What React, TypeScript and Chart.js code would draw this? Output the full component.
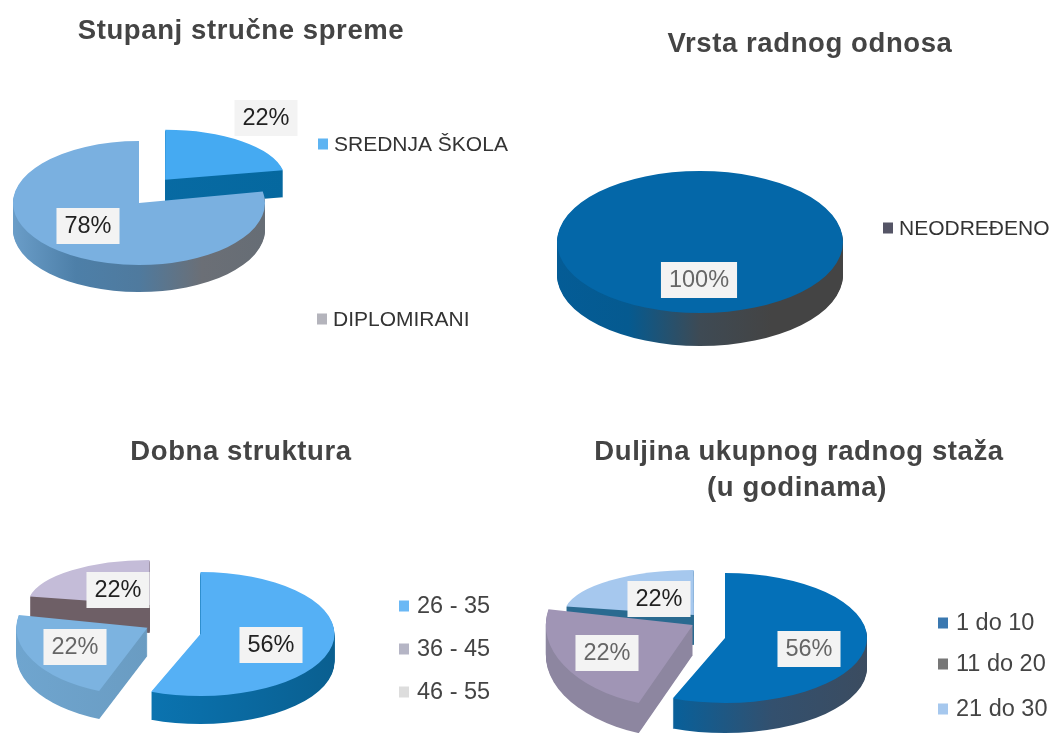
import React, { useEffect, useRef } from "react";
import { Chart, registerables } from "chart.js";

Chart.register(...registerables);

const PAGE_W = 1060;
const PAGE_H = 733;
const FONT = '"Liberation Sans", Arial, sans-serif';

// ---- data ----
const educationLabels = ["SREDNJA ŠKOLA", "DIPLOMIRANI"];
const educationValues = [22, 78];
const contractLabels = ["NEODREĐENO"];
const contractValues = [100];
const ageLabels = ["26 - 35", "36 - 45", "46 - 55"];
const ageValues = [56, 22, 22];
const tenureLabels = ["1 do 10", "11 do 20", "21 do 30"];
const tenureValues = [56, 22, 22];

type Slice = {
  top: string; wall: string[]; rx: number; ry: number; nudge: [number, number];
  offset: number; labelAt: [number, number]; labelColor: string;
};
type Cfg = {
  labels: string[]; values: number[]; center: [number, number]; depth: number; order: number[];
  slices: Slice[];
  titles: { text: string; x: number; y: number }[];
  legend: { x: number; y: number; color: string; size: number; textColor: string }[];
};

const configs: Cfg[] = [
  {
    labels: educationLabels, values: educationValues, center: [139, 203], depth: 27, order: [0, 1],
    slices: [
      { top: "#45aaf2", wall: ["#0a6ca6", "#05689f"], rx: 120, ry: 50, nudge: [0, -7.5], offset: 164, labelAt: [266, 118], labelColor: "#222" },
      { top: "#7ab0e0", wall: ["#6a9dc8", "#4d7fa8", "#4f7a9e", "#6b6f76", "#666d75"], rx: 126, ry: 62, nudge: [0, 0], offset: 0, labelAt: [88, 226], labelColor: "#222" },
    ],
    titles: [{ text: "Stupanj stručne spreme", x: 241, y: 31 }],
    legend: [
      { x: 318, y: 145, color: "#5eb4f2", size: 21, textColor: "#333" },
      { x: 317, y: 320, color: "#b4b4bc", size: 21, textColor: "#333" },
    ],
  },
  {
    labels: contractLabels, values: contractValues, center: [700, 242], depth: 33, order: [0],
    slices: [
      { top: "#0467a8", wall: ["#045c96", "#055a90", "#3e4a54", "#444444", "#444444"], rx: 143, ry: 71, nudge: [0, 0], offset: 0, labelAt: [699, 280], labelColor: "#666" },
    ],
    titles: [{ text: "Vrsta radnog odnosa", x: 810, y: 44 }],
    legend: [{ x: 883, y: 229, color: "#555566", size: 21, textColor: "#333" }],
  },
  {
    labels: ageLabels, values: ageValues, center: [172, 628], depth: 28, order: [2, 1, 0],
    slices: [
      { top: "#55b0f5", wall: ["#0c7cbc", "#0a6ea8", "#0a5f90"], rx: 134, ry: 62, nudge: [28.5, 6], offset: 0, labelAt: [271, 645], labelColor: "#222" },
      { top: "#7cb3e0", wall: ["#6fa5cf", "#6a9cc2", "#6a9cc2"], rx: 131, ry: 68, nudge: [0, -7], offset: 112, labelAt: [75, 647], labelColor: "#666" },
      { top: "#c4bcd8", wall: ["#6e5f66", "#6e5f66"], rx: 122, ry: 45, nudge: [0, -9.5], offset: 140, labelAt: [118, 590], labelColor: "#222" },
    ],
    titles: [{ text: "Dobna struktura", x: 241, y: 452 }],
    legend: [
      { x: 399, y: 607, color: "#6ab8f5", size: 23.5, textColor: "#444" },
      { x: 399, y: 650, color: "#b5b5c5", size: 23.5, textColor: "#444" },
      { x: 399, y: 693, color: "#dddddd", size: 23.5, textColor: "#444" },
    ],
  },
  {
    labels: tenureLabels, values: tenureValues, center: [713, 625], depth: 30, order: [2, 1, 0],
    slices: [
      { top: "#0470b8", wall: ["#0a6aa8", "#0a5f98", "#33506e", "#3b4c60"], rx: 142, ry: 65, nudge: [12, 13], offset: 0, labelAt: [809, 649], labelColor: "#666" },
      { top: "#a095b5", wall: ["#8d86a0", "#8d86a0"], rx: 147, ry: 84, nudge: [0, -5.5], offset: 92, labelAt: [607, 653], labelColor: "#666" },
      { top: "#a6c8ee", wall: ["#2a6a90", "#2a6a90"], rx: 130, ry: 45, nudge: [0, 1.5], offset: 120, labelAt: [659, 599], labelColor: "#222" },
    ],
    titles: [
      { text: "Duljina ukupnog radnog staža", x: 799, y: 452 },
      { text: "(u godinama)", x: 797, y: 488 },
    ],
    legend: [
      { x: 938, y: 624, color: "#3a78b0", size: 23.5, textColor: "#444" },
      { x: 938, y: 665, color: "#777777", size: 23.5, textColor: "#444" },
      { x: 938, y: 710, color: "#a6c8ee", size: 23.5, textColor: "#444" },
    ],
  },
];

const TILT = 0.5;

function sliceGeometry(arc: any, s: Slice) {
  const o = (arc.options.offset || 0) / 4;
  const mid = (arc.startAngle + arc.endAngle) / 2;
  const c = arc.circumference;
  const fix = 1 - Math.sin(Math.min(Math.PI, c || 0));
  return {
    o, mid,
    ax: arc.x + Math.cos(mid) * o + s.nudge[0],
    ay: arc.y + Math.sin(mid) * o * TILT + s.nudge[1],
    fullR: arc.outerRadius + o * fix,
  };
}

function pseudo3d(cfg: Cfg) {
  return {
    id: "pseudo3d",
    beforeDatasetDraw(chart: any) {
      const ctx = chart.ctx;
      const arcs = chart.getDatasetMeta(0).data;
      cfg.order.forEach((i) => {
        const arc = arcs[i];
        const s = cfg.slices[i];
        const g = sliceGeometry(arc, s);
        // extruded wall
        const grad = ctx.createLinearGradient(g.ax - s.rx, 0, g.ax + s.rx, 0);
        s.wall.forEach((col, k) => grad.addColorStop(k / (s.wall.length - 1), col));
        ctx.fillStyle = grad;
        for (let d = cfg.depth; d >= 1; d--) {
          ctx.beginPath();
          ctx.moveTo(g.ax, g.ay + d);
          ctx.ellipse(g.ax, g.ay + d, s.rx, s.ry, 0, arc.startAngle, arc.endAngle);
          ctx.closePath();
          ctx.fill();
        }
        // top face: the library's own arc, squashed
        ctx.save();
        ctx.translate(g.ax, g.ay);
        ctx.scale(s.rx / g.fullR, s.ry / g.fullR);
        ctx.translate(-(arc.x + Math.cos(g.mid) * g.o), -(arc.y + Math.sin(g.mid) * g.o));
        arc.draw(ctx);
        ctx.restore();
      });
      return false;
    },
    afterDatasetsDraw(chart: any) {
      const ctx = chart.ctx;
      ctx.save();
      ctx.textBaseline = "middle";
      // value labels
      ctx.textAlign = "center";
      ctx.font = `23.5px ${FONT}`;
      cfg.values.forEach((v, i) => {
        const s = cfg.slices[i];
        const text = `${v}%`;
        const w = ctx.measureText(text).width + 16;
        ctx.fillStyle = "#f3f3f3";
        ctx.fillRect(s.labelAt[0] - w / 2, s.labelAt[1] - 18, w, 36);
        ctx.fillStyle = s.labelColor;
        ctx.fillText(text, s.labelAt[0], s.labelAt[1] + 1);
      });
      // legend
      ctx.textAlign = "left";
      cfg.labels.forEach((label, i) => {
        const l = cfg.legend[i];
        ctx.fillStyle = l.color;
        ctx.fillRect(l.x, l.y - 6.5, 10, 11);
        ctx.font = `${l.size}px ${FONT}`;
        ctx.fillStyle = l.textColor;
        ctx.fillText(label, l.x + (l.size > 22 ? 18 : 16), l.y);
      });
      // titles
      ctx.textAlign = "center";
      ctx.font = `bold 27.5px ${FONT}`;
      ctx.fillStyle = "#444";
      (ctx as any).letterSpacing = "0.6px";
      cfg.titles.forEach((t) => ctx.fillText(t.text, t.x, t.y));
      (ctx as any).letterSpacing = "0px";
      ctx.restore();
    },
  };
}

function Pie({ cfg }: { cfg: Cfg }) {
  const ref = useRef<HTMLCanvasElement>(null);
  useEffect(() => {
    const [cx, cy] = cfg.center;
    const chart = new Chart(ref.current as HTMLCanvasElement, {
      type: "pie",
      data: {
        labels: cfg.labels,
        datasets: [
          {
            data: cfg.values,
            backgroundColor: cfg.slices.map((s) => s.top),
            offset: cfg.slices.map((s) => s.offset),
            borderWidth: 0,
            clip: false,
          } as any,
        ],
      },
      options: {
        animation: false,
        responsive: false,
        radius: 100,
        layout: {
          padding: {
            left: Math.max(2 * cx - PAGE_W, 0),
            right: Math.max(PAGE_W - 2 * cx, 0),
            top: Math.max(2 * cy - PAGE_H, 0),
            bottom: Math.max(PAGE_H - 2 * cy, 0),
          },
        },
        plugins: { legend: { display: false }, tooltip: { enabled: false }, title: { display: false } },
      } as any,
      plugins: [pseudo3d(cfg)] as any,
    });
    return () => chart.destroy();
  }, [cfg]);
  return (
    <canvas
      ref={ref}
      width={PAGE_W}
      height={PAGE_H}
      style={{ position: "absolute", left: 0, top: 0, width: PAGE_W, height: PAGE_H }}
    />
  );
}

export default function App() {
  return (
    <div style={{ position: "absolute", left: 0, top: 0, width: PAGE_W, height: PAGE_H, overflow: "hidden", background: "#fff" }}>
      {configs.map((c, i) => (
        <Pie key={i} cfg={c} />
      ))}
    </div>
  );
}
